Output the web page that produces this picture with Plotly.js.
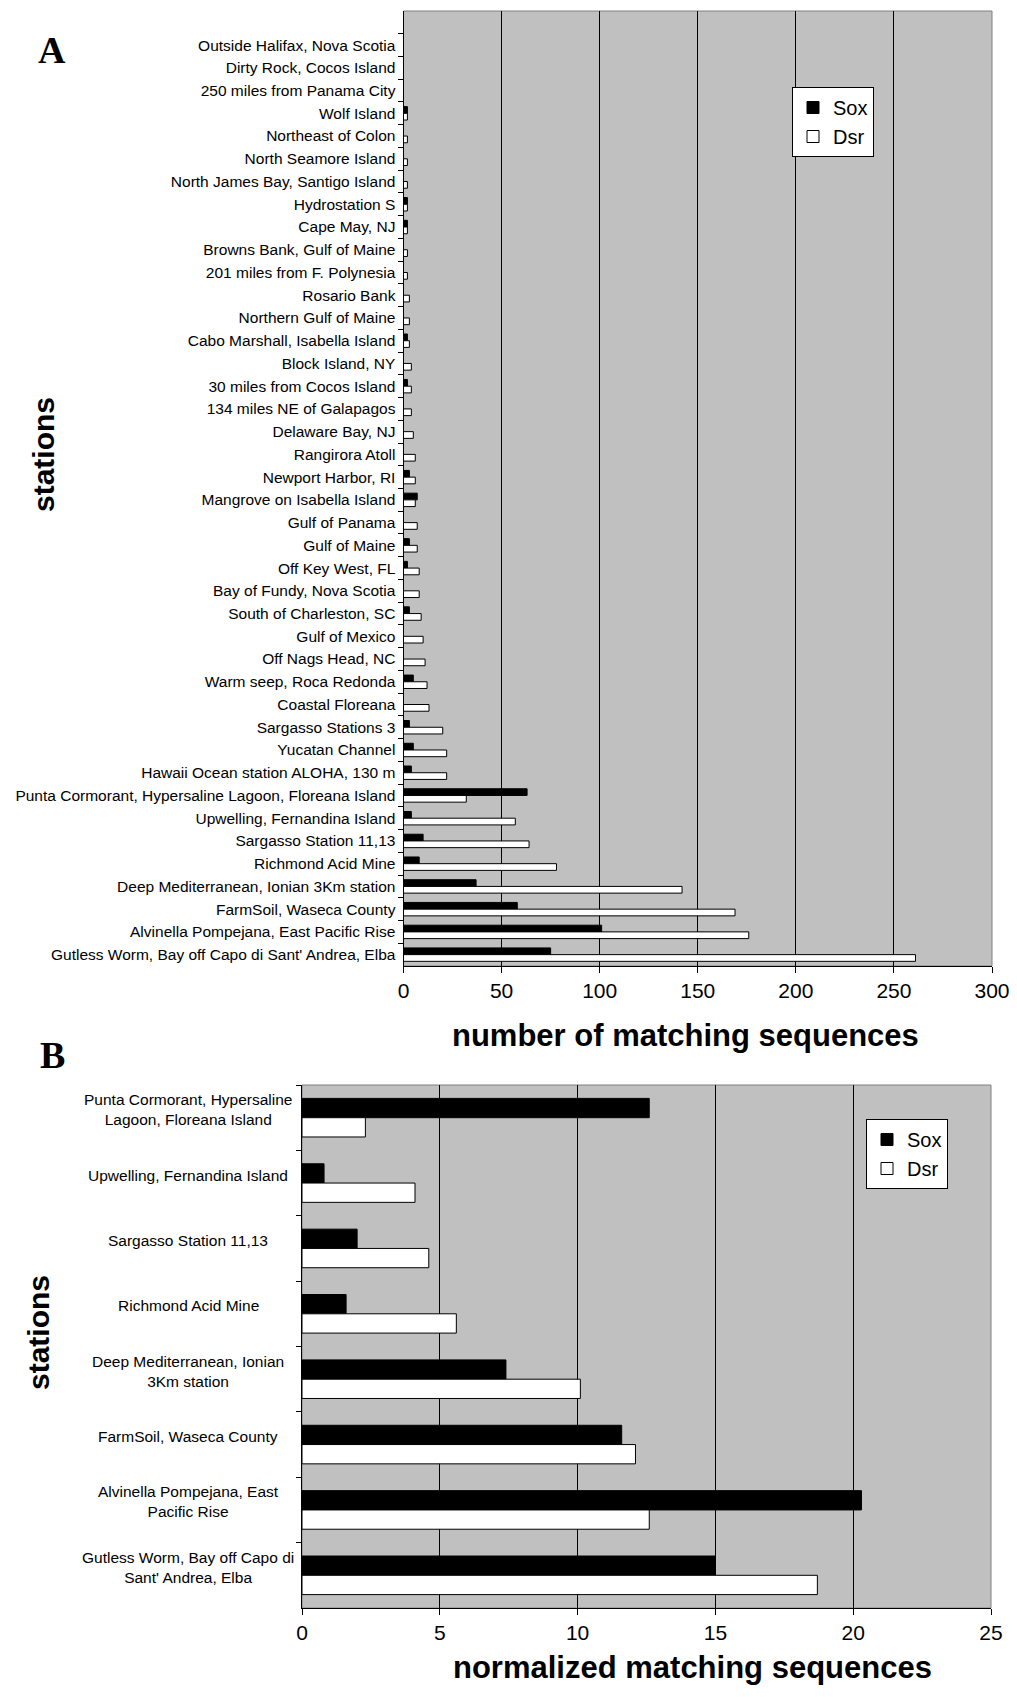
<!DOCTYPE html>
<html>
<head>
<meta charset="utf-8">
<script src="https://cdn.plot.ly/plotly-3.0.1.min.js"></script>
<style>
  html, body { margin: 0; padding: 0; background: #ffffff; }
  #chart { width: 1017px; height: 1697px; }
</style>
</head>
<body>
<div id="chart"></div>
<script>
// Panel A: all stations, listed top to bottom
const stationsA = [
  "Outside Halifax, Nova Scotia",
  "Dirty Rock, Cocos Island",
  "250 miles from Panama City",
  "Wolf Island",
  "Northeast of Colon",
  "North Seamore Island",
  "North James Bay, Santigo Island",
  "Hydrostation S",
  "Cape May, NJ",
  "Browns Bank, Gulf of Maine",
  "201 miles from F. Polynesia",
  "Rosario Bank",
  "Northern Gulf of Maine",
  "Cabo Marshall, Isabella Island",
  "Block Island, NY",
  "30 miles from Cocos Island",
  "134 miles NE of Galapagos",
  "Delaware Bay, NJ",
  "Rangirora Atoll",
  "Newport Harbor, RI",
  "Mangrove on Isabella Island",
  "Gulf of Panama",
  "Gulf of Maine",
  "Off Key West, FL",
  "Bay of Fundy, Nova Scotia",
  "South of Charleston, SC",
  "Gulf of Mexico",
  "Off Nags Head, NC",
  "Warm seep, Roca Redonda",
  "Coastal Floreana",
  "Sargasso Stations 3",
  "Yucatan Channel",
  "Hawaii Ocean station ALOHA, 130 m",
  "Punta Cormorant, Hypersaline Lagoon, Floreana Island",
  "Upwelling, Fernandina Island",
  "Sargasso Station 11,13",
  "Richmond Acid Mine",
  "Deep Mediterranean, Ionian 3Km station",
  "FarmSoil, Waseca County",
  "Alvinella Pompejana, East Pacific Rise",
  "Gutless Worm, Bay off Capo di Sant' Andrea, Elba"
];
const soxCountA = [0, 0, 0, 2, 0, 0, 0, 2, 2, 0, 0, 0, 0, 2, 0, 2, 0, 0, 0, 3,
                   7, 0, 3, 2, 0, 3, 0, 0, 5, 0, 3, 5, 4, 63, 4, 10, 8, 37, 58, 101, 75];
const dsrCountA = [0, 0, 0, 2, 2, 2, 2, 2, 2, 2, 2, 3, 3, 3, 4, 4, 4, 5, 6, 6,
                   6, 7, 7, 8, 8, 9, 10, 11, 12, 13, 20, 22, 22, 32, 57, 64, 78, 142, 169, 176, 261];

// Panel B: the eight richest stations, normalized
const stationsB = [
  "Punta Cormorant, Hypersaline Lagoon, Floreana Island",
  "Upwelling, Fernandina Island",
  "Sargasso Station 11,13",
  "Richmond Acid Mine",
  "Deep Mediterranean, Ionian 3Km station",
  "FarmSoil, Waseca County",
  "Alvinella Pompejana, East Pacific Rise",
  "Gutless Worm, Bay off Capo di Sant' Andrea, Elba"
];
const stationLabelsB = [
  "Punta Cormorant, Hypersaline<br>Lagoon, Floreana Island",
  "Upwelling, Fernandina Island",
  "Sargasso Station 11,13",
  "Richmond Acid Mine",
  "Deep Mediterranean, Ionian<br>3Km station",
  "FarmSoil, Waseca County",
  "Alvinella Pompejana, East<br>Pacific Rise",
  "Gutless Worm, Bay off Capo di<br>Sant' Andrea, Elba"
];
const soxNormB = [12.6, 0.8, 2.0, 1.6, 7.4, 11.6, 20.3, 15.0];
const dsrNormB = [2.3, 4.1, 4.6, 5.6, 10.1, 12.1, 12.6, 18.7];

const W = 1017, H = 1697;
const px = v => v / W;          // page x -> paper x
const py = v => 1 - v / H;      // page y -> paper y

const SANS = "Liberation Sans, Arial, sans-serif";
const SERIF = "Liberation Serif, Times New Roman, serif";
const barLine = { color: "#000000", width: 1 };

const traces = [
  { type: "bar", orientation: "h", name: "Sox", y: stationsA, x: soxCountA,
    xaxis: "x", yaxis: "y", marker: { color: "#000000", line: barLine }, legend: "legend" },
  { type: "bar", orientation: "h", name: "Dsr", y: stationsA, x: dsrCountA,
    xaxis: "x", yaxis: "y", marker: { color: "#ffffff", line: barLine }, legend: "legend" },
  { type: "bar", orientation: "h", name: "Sox", y: stationsB, x: soxNormB,
    xaxis: "x2", yaxis: "y2", marker: { color: "#000000", line: barLine }, legend: "legend2" },
  { type: "bar", orientation: "h", name: "Dsr", y: stationsB, x: dsrNormB,
    xaxis: "x2", yaxis: "y2", marker: { color: "#ffffff", line: barLine }, legend: "legend2" }
];

const valueAxis = {
  showgrid: true, gridcolor: "#000000", gridwidth: 1,
  showline: true, linecolor: "#000000", linewidth: 1,
  ticks: "outside", ticklen: 6, tickcolor: "#000000",
  zeroline: false, fixedrange: true,
  tickfont: { family: SANS, size: 21, color: "#000000" }
};
const catAxis = {
  type: "category", autorange: false, tickson: "boundaries",
  ticks: "outside", ticklen: 5, tickcolor: "#000000",
  showline: true, linecolor: "#000000", linewidth: 1,
  showgrid: false, zeroline: false, fixedrange: true
};

const annotations = [
  { text: "<b>A</b>", xref: "paper", yref: "paper", x: px(52), y: py(50),
    xanchor: "center", yanchor: "middle", showarrow: false,
    font: { family: SERIF, size: 38, color: "#000000" } },
  { text: "<b>B</b>", xref: "paper", yref: "paper", x: px(52), y: py(1055),
    xanchor: "center", yanchor: "middle", showarrow: false,
    font: { family: SERIF, size: 38, color: "#000000" } },
  { text: "<b>number of matching sequences</b>", xref: "paper", yref: "paper",
    x: px(685), y: py(1035), xanchor: "center", yanchor: "middle", showarrow: false,
    font: { family: SANS, size: 31, color: "#000000" } },
  { text: "<b>normalized matching sequences</b>", xref: "paper", yref: "paper",
    x: px(692), y: py(1667), xanchor: "center", yanchor: "middle", showarrow: false,
    font: { family: SANS, size: 31, color: "#000000" } },
  { text: "<b>stations</b>", xref: "paper", yref: "paper", textangle: -90,
    x: px(44), y: py(455), xanchor: "center", yanchor: "middle", showarrow: false,
    font: { family: SANS, size: 30, color: "#000000" } },
  { text: "<b>stations</b>", xref: "paper", yref: "paper", textangle: -90,
    x: px(38), y: py(1333), xanchor: "center", yanchor: "middle", showarrow: false,
    font: { family: SANS, size: 30, color: "#000000" } }
];
// Centered, wrapped station names for panel B
stationsB.forEach((s, i) => {
  annotations.push({
    text: stationLabelsB[i], xref: "paper", yref: "y2", x: px(188), y: s,
    xanchor: "center", yanchor: "middle", align: "center", yshift: 8, showarrow: false,
    font: { family: SANS, size: 15.5, color: "#000000" }
  });
});

const legendBase = {
  xanchor: "left", yanchor: "top", bgcolor: "#ffffff",
  bordercolor: "#000000", borderwidth: 1,
  font: { family: SANS, size: 20, color: "#000000" }, traceorder: "normal"
};

const layout = {
  width: W, height: H,
  margin: { l: 0, r: 0, t: 0, b: 0, pad: 0 },
  paper_bgcolor: "#ffffff", plot_bgcolor: "#c0c0c0",
  barmode: "group", bargap: 0.41, bargroupgap: 0,
  font: { family: SANS, color: "#000000" },
  showlegend: true,
  legend: Object.assign({}, legendBase, { x: px(792), y: py(87) }),
  legend2: Object.assign({}, legendBase, { x: px(866), y: py(1119) }),
  xaxis: Object.assign({}, valueAxis, {
    domain: [px(403.5), px(992)], anchor: "y", range: [0, 300], tick0: 0, dtick: 50
  }),
  yaxis: Object.assign({}, catAxis, {
    domain: [py(966), py(11)], anchor: "x", range: [40.5, -1.5],
    categoryorder: "array", categoryarray: stationsA, ticklabelstandoff: 4,
    tickfont: { family: SANS, size: 15.5, color: "#000000" }
  }),
  xaxis2: Object.assign({}, valueAxis, {
    domain: [px(302), px(991)], anchor: "y2", range: [0, 25], tick0: 0, dtick: 5
  }),
  yaxis2: Object.assign({}, catAxis, {
    domain: [py(1608), py(1085)], anchor: "x2", range: [7.5, -0.5],
    categoryorder: "array", categoryarray: stationsB, showticklabels: false
  }),
  shapes: [
    { type: "rect", xref: "x domain", yref: "y domain", x0: 0, x1: 1, y0: 0, y1: 1,
      line: { color: "#808080", width: 1 }, layer: "below" },
    { type: "rect", xref: "x2 domain", yref: "y2 domain", x0: 0, x1: 1, y0: 0, y1: 1,
      line: { color: "#808080", width: 1 }, layer: "below" }
  ],
  annotations: annotations
};

Plotly.newPlot("chart", traces, layout, { staticPlot: true, displayModeBar: false });
</script>
</body>
</html>
